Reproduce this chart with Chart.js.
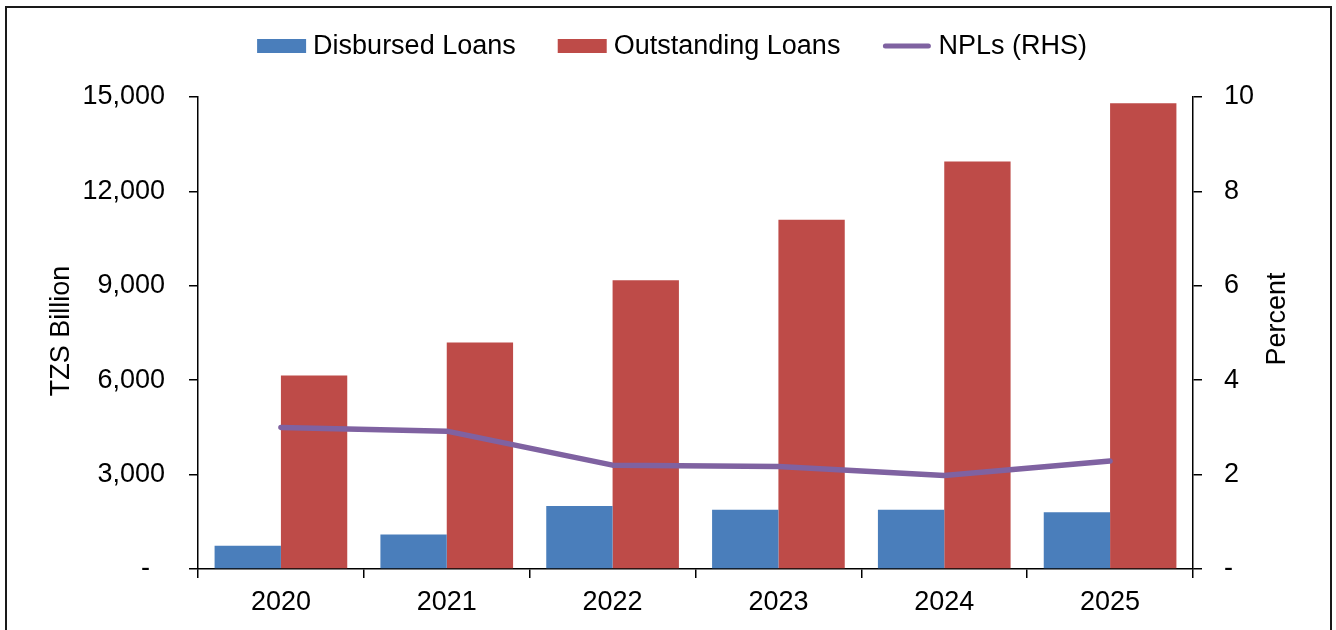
<!DOCTYPE html>
<html lang="en">
<head>
    <meta charset="UTF-8">
    <title>Loans and NPLs</title>
    <script src="https://cdn.jsdelivr.net/npm/chart.js"></script>
    <style>
        body {
            margin: 0;
            background: #FFFFFF;
        }
        #loanChart {
            display: block;
        }
    </style>
</head>
<body>
    <canvas id="loanChart" width="1336" height="630"></canvas>

    <script>
        // years on the x axis
        const years = ['2020', '2021', '2022', '2023', '2024', '2025'];
        // TZS billion
        const disbursedLoans = [740, 1100, 2000, 1880, 1880, 1800];
        const outstandingLoans = [6150, 7200, 9180, 11100, 12950, 14800];
        // percent (right axis)
        const nplRatio = [3.0, 2.92, 2.2, 2.17, 1.98, 2.29];

        const leftTicks = [0, 3000, 6000, 9000, 12000, 15000];
        const rightTicks = [0, 2, 4, 6, 8, 10];

        const BLUE = '#4A7EBB';
        const RED = '#BE4B48';
        const PURPLE = '#7F62A1';
        const FONT = 'Liberation Sans, Arial, sans-serif';
        const FSIZE = 27;

        Chart.defaults.font.family = FONT;
        Chart.defaults.font.size = FSIZE;
        Chart.defaults.color = '#000000';

        const legendItems = [
            { text: 'Disbursed Loans', color: BLUE, kind: 'box' },
            { text: 'Outstanding Loans', color: RED, kind: 'box' },
            { text: 'NPLs (RHS)', color: PURPLE, kind: 'line' }
        ];

        // outer frame, legend row and the two rotated axis titles
        const decorPlugin = {
            id: 'decor',
            afterDraw(chart) {
                const ctx = chart.ctx;
                ctx.save();

                ctx.strokeStyle = '#1A1A1A';
                ctx.lineWidth = 2;
                ctx.strokeRect(6, 7, 1325, 640);

                ctx.font = FSIZE + 'px ' + FONT;
                ctx.fillStyle = '#000000';
                ctx.textBaseline = 'middle';

                const boxW = 49, gapText = 7, gapItem = 42, legendY = 46;
                let total = 0;
                legendItems.forEach((it, i) => {
                    it.w = boxW + gapText + ctx.measureText(it.text).width;
                    total += it.w + (i > 0 ? gapItem : 0);
                });
                let x = 672 - total / 2;
                legendItems.forEach(it => {
                    if (it.kind === 'box') {
                        ctx.fillStyle = it.color;
                        ctx.fillRect(x, legendY - 7, boxW, 14);
                    } else {
                        ctx.strokeStyle = it.color;
                        ctx.lineWidth = 5;
                        ctx.lineCap = 'round';
                        ctx.beginPath();
                        ctx.moveTo(x + 3, legendY);
                        ctx.lineTo(x + boxW - 3, legendY);
                        ctx.stroke();
                    }
                    ctx.fillStyle = '#000000';
                    ctx.textAlign = 'left';
                    ctx.fillText(it.text, x + boxW + gapText, legendY + 1);
                    x += it.w + gapItem;
                });

                ctx.textAlign = 'center';
                ctx.save();
                ctx.translate(62, 331);
                ctx.rotate(-Math.PI / 2);
                ctx.fillText('TZS Billion', 0, 0);
                ctx.restore();

                ctx.save();
                ctx.translate(1278, 319);
                ctx.rotate(-Math.PI / 2);
                ctx.fillText('Percent', 0, 0);
                ctx.restore();

                ctx.restore();
            }
        };

        new Chart(document.getElementById('loanChart'), {
            data: {
                labels: years,
                datasets: [{
                    type: 'line',
                    label: 'NPLs (RHS)',
                    data: nplRatio,
                    yAxisID: 'y1',
                    borderColor: PURPLE,
                    backgroundColor: PURPLE,
                    borderWidth: 5.5,
                    borderCapStyle: 'round',
                    borderJoinStyle: 'round',
                    pointRadius: 0,
                    tension: 0,
                    order: 0
                }, {
                    type: 'bar',
                    label: 'Disbursed Loans',
                    data: disbursedLoans,
                    yAxisID: 'y',
                    backgroundColor: BLUE,
                    categoryPercentage: 0.8,
                    barPercentage: 1.0,
                    order: 1
                }, {
                    type: 'bar',
                    label: 'Outstanding Loans',
                    data: outstandingLoans,
                    yAxisID: 'y',
                    backgroundColor: RED,
                    categoryPercentage: 0.8,
                    barPercentage: 1.0,
                    order: 1
                }]
            },
            options: {
                responsive: false,
                animation: false,
                layout: {
                    padding: { top: 97, left: 0, right: 0, bottom: 0 }
                },
                plugins: {
                    legend: { display: false },
                    tooltip: { enabled: false }
                },
                scales: {
                    x: {
                        offset: true,
                        grid: {
                            offset: true,
                            drawOnChartArea: false,
                            tickLength: 9,
                            color: '#000000',
                            lineWidth: 1.5
                        },
                        border: { color: '#000000', width: 1.5 },
                        ticks: { padding: 8, font: { size: FSIZE } },
                        afterFit(scale) { scale.height = 61; }
                    },
                    y: {
                        position: 'left',
                        min: 0,
                        max: 15000,
                        afterBuildTicks(scale) {
                            scale.ticks = leftTicks.map(v => ({ value: v }));
                        },
                        grid: {
                            drawOnChartArea: false,
                            tickLength: 9,
                            color: '#000000',
                            lineWidth: 1.5
                        },
                        border: { color: '#000000', width: 1.5 },
                        ticks: {
                            padding: 24,
                            font: { size: FSIZE },
                            callback: v => v === 0 ? '-  ' : v.toLocaleString('en-US')
                        },
                        afterFit(scale) { scale.width = 198; }
                    },
                    y1: {
                        position: 'right',
                        min: 0,
                        max: 10,
                        afterBuildTicks(scale) {
                            scale.ticks = rightTicks.map(v => ({ value: v }));
                        },
                        grid: {
                            drawOnChartArea: false,
                            tickLength: 9,
                            color: '#000000',
                            lineWidth: 1.5
                        },
                        border: { color: '#000000', width: 1.5 },
                        ticks: {
                            padding: 22,
                            font: { size: FSIZE },
                            callback: v => v === 0 ? '-' : String(v)
                        },
                        afterFit(scale) { scale.width = 143; }
                    }
                }
            },
            plugins: [decorPlugin]
        });
    </script>
</body>
</html>
